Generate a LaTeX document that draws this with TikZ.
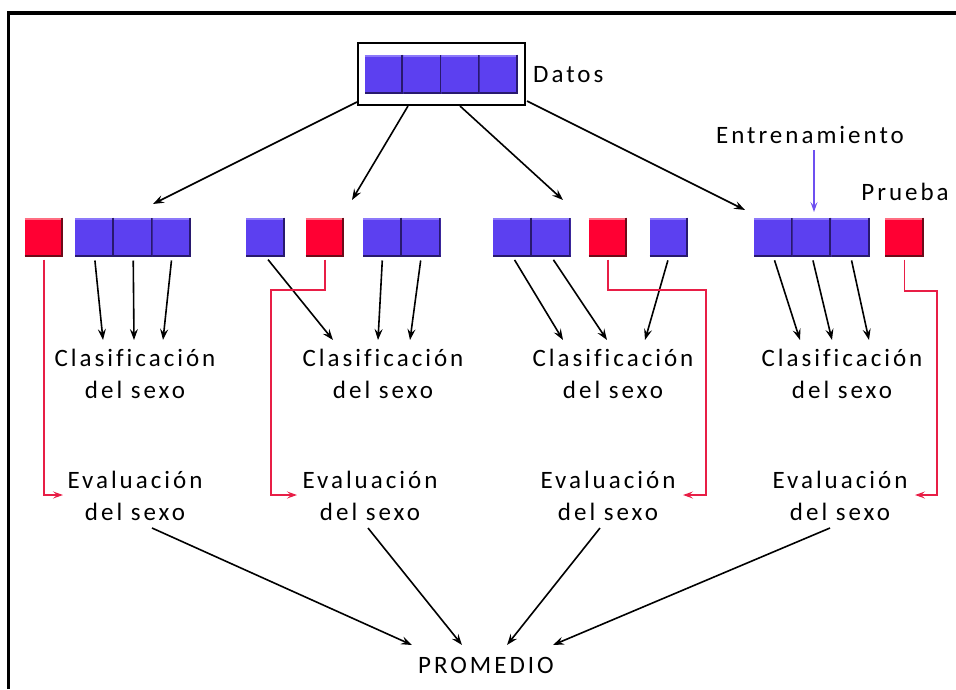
\documentclass[tikz,border=0pt]{standalone}
\usepackage{fontspec}
\setmainfont{Carlito}[LetterSpace=12, Ligatures=NoCommon]
\usetikzlibrary{arrows.meta,calc}
\definecolor{sqblue}{RGB}{92,64,240}
\definecolor{sqbluehi}{RGB}{140,120,250}
\definecolor{sqbluedk}{RGB}{40,25,110}
\definecolor{sqred}{RGB}{255,0,51}
\definecolor{sqredhi}{RGB}{255,110,130}
\definecolor{sqreddk}{RGB}{110,10,25}
\definecolor{redline}{RGB}{232,30,70}
\definecolor{blueline}{RGB}{110,80,240}
\begin{document}
\begin{tikzpicture}[x=1pt,y=-1pt,
  sq/.style={minimum width=38.7pt, minimum height=39pt, inner sep=0pt, outer sep=0pt, draw=none},
  bsq/.style={sq, fill=sqblue, path picture={
    \draw[sqbluehi, line width=2pt] ([yshift=-1pt]path picture bounding box.north west) -- ([yshift=-1pt]path picture bounding box.north east);
    \draw[sqbluedk, line width=2pt] ([xshift=-1pt]path picture bounding box.north east) -- ([xshift=-1pt]path picture bounding box.south east);
    \draw[sqbluedk, line width=2pt] ([yshift=1pt]path picture bounding box.south west) -- ([yshift=1pt]path picture bounding box.south east);}},
  rsq/.style={sq, fill=sqred, path picture={
    \draw[sqredhi, line width=2pt] ([yshift=-1pt]path picture bounding box.north west) -- ([yshift=-1pt]path picture bounding box.north east);
    \draw[sqreddk, line width=2pt] ([xshift=-1pt]path picture bounding box.north east) -- ([xshift=-1pt]path picture bounding box.south east);
    \draw[sqreddk, line width=2pt] ([yshift=1pt]path picture bounding box.south west) -- ([yshift=1pt]path picture bounding box.south east);}},
  lbl/.style={font=\fontsize{25}{32}\selectfont, inner sep=0pt, align=center, anchor=base},
  arr/.style={-{Stealth[length=11pt,width=8pt,inset=4pt]}, line width=1.6pt},
  redarr/.style={-{Stealth[length=10pt,width=7pt,inset=4pt]}, line width=1.6pt, draw=redline},
  bluearr/.style={-{Stealth[length=10pt,width=7pt,inset=4pt]}, line width=1.6pt, draw=blueline}
]
\useasboundingbox (0,0) rectangle (956,689);
% frame
\draw[line width=3.5pt] (8.5,689) -- (8.5,13) -- (956,13);

% top data box
\node[draw, line width=2pt, minimum width=167pt, minimum height=62pt, inner sep=0pt] (data) at (441.5,74) {};
\node[bsq, minimum width=38.25pt] (d1) at (384.1,74) {};
\node[bsq, minimum width=38.25pt] (d2) at (422.4,74) {};
\node[bsq, minimum width=38.25pt] (d3) at (460.6,74) {};
\node[bsq, minimum width=38.25pt] (d4) at (498.9,74) {};
\node[lbl, anchor=base west] (datos) at (533,82) {Datos};

% group 1
\node[rsq] (g1r) at (44,237) {};
\node[bsq] (g1a) at (94.5,237) {};
\node[bsq] (g1b) at (133.2,237) {};
\node[bsq] (g1c) at (171.9,237) {};
% group 2
\node[bsq] (g2a) at (265.5,237) {};
\node[rsq] (g2r) at (325,237) {};
\node[bsq] (g2b) at (382.5,237) {};
\node[bsq] (g2c) at (421.2,237) {};
% group 3
\node[bsq] (g3a) at (512.5,237) {};
\node[bsq] (g3b) at (551.2,237) {};
\node[rsq] (g3r) at (608,237) {};
\node[bsq] (g3c) at (669,237) {};
% group 4
\node[bsq] (g4a) at (773.3,237) {};
\node[bsq] (g4b) at (812,237) {};
\node[bsq] (g4c) at (850.7,237) {};
\node[rsq] (g4r) at (904.5,237) {};

\node[lbl] (entr) at (810,143) {Entrenamiento};
\node[lbl] (prueba) at (905,200) {Prueba};

% labels (base anchor = baseline of the last line)
\node[lbl] (c1) at (135,398) {Clasificación\\del sexo};
\node[lbl] (c2) at (383,398) {Clasificación\\del sexo};
\node[lbl] (c3) at (613,398) {Clasificación\\del sexo};
\node[lbl] (c4) at (842,398) {Clasificación\\del sexo};
\node[lbl] (e1) at (135,520) {Evaluación\\del sexo};
\node[lbl] (e2) at (370,520) {Evaluación\\del sexo};
\node[lbl] (e3) at (608,520) {Evaluación\\del sexo};
\node[lbl] (e4) at (840,520) {Evaluación\\del sexo};
\node[lbl] (prom) at (486,673) {PROMEDIO};

% coordinates
\coordinate (t1) at (153,204);
\coordinate (t2) at (352,200);
\coordinate (t3) at (563,200);
\coordinate (t4) at (745,210);
\coordinate (s1) at (357,102);
\coordinate (s2) at (408,106);
\coordinate (s3) at (460,106);
\coordinate (s4) at (527,101);
\draw[arr] (s1) -- (t1);
\draw[arr] (s2) -- (t2);
\draw[arr] (s3) -- (t3);
\draw[arr] (s4) -- (t4);

\coordinate (c1a) at (103,340); \coordinate (c1b) at (134,340); \coordinate (c1c) at (163,340);
\coordinate (c2a) at (333,340); \coordinate (c2b) at (378,340); \coordinate (c2c) at (410,340);
\coordinate (c3a) at (563,340); \coordinate (c3b) at (607,340); \coordinate (c3c) at (645,340);
\coordinate (c4a) at (800,340); \coordinate (c4b) at (832,340); \coordinate (c4c) at (869,340);
\draw[arr, shorten <=4pt] (g1a.south) -- (c1a);
\draw[arr, shorten <=4pt] (g1b.south) -- (c1b);
\draw[arr, shorten <=4pt] (g1c.south) -- (c1c);
\draw[arr, shorten <=4pt] (g2a.south) -- (c2a);
\draw[arr, shorten <=4pt] (g2b.south) -- (c2b);
\draw[arr, shorten <=4pt] (g2c.south) -- (c2c);
\draw[arr, shorten <=4pt] (g3a.south) -- (c3a);
\draw[arr, shorten <=4pt] (g3b.south) -- (c3b);
\draw[arr, shorten <=4pt] (g3c.south) -- (c3c);
\draw[arr, shorten <=4pt] (g4a.south) -- (c4a);
\draw[arr, shorten <=4pt] (g4b.south) -- (c4b);
\draw[arr, shorten <=4pt] (g4c.south) -- (c4c);

% red connectors
\coordinate (r1) at (63,495);
\coordinate (r2) at (297,495);
\coordinate (r3) at (683,495);
\coordinate (r4) at (915,495);
\draw[redarr, shorten <=3pt] (g1r.south) -- (44,495) -- (r1);
\draw[redarr, shorten <=3pt] (g2r.south) -- (325,290) -- (271,290) -- (271,495) -- (r2);
\draw[redarr, shorten <=3pt] (g3r.south) -- (608,290) -- (706,290) -- (706,495) -- (r3);
\draw[redarr, shorten <=3pt] (g4r.south) -- (904.5,291) -- (937,291) -- (937,495) -- (r4);

% blue arrow
\coordinate (bt) at (814,212);
\draw[bluearr, shorten <=7pt] (entr.base) ++(4,0) coordinate (bs) (bs) -- (bt);

% to promedio
\coordinate (p1) at (412,645);
\coordinate (p2) at (462,645);
\coordinate (p3) at (507,645);
\coordinate (p4) at (553,645);
\coordinate (q1) at (152,528);
\coordinate (q2) at (368,528);
\coordinate (q3) at (600,528);
\coordinate (q4) at (830,528);
\draw[arr] (q1) -- (p1);
\draw[arr] (q2) -- (p2);
\draw[arr] (q3) -- (p3);
\draw[arr] (q4) -- (p4);
\end{tikzpicture}
\end{document}
